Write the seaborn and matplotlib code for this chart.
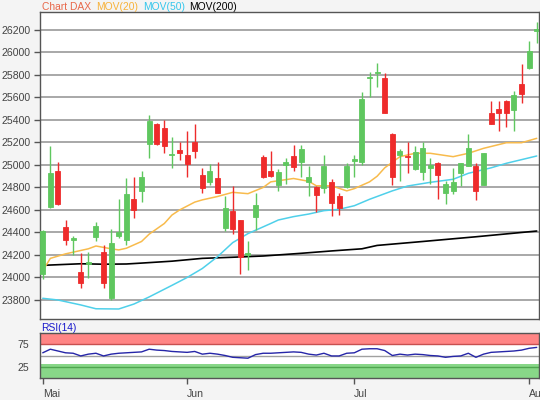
import numpy as np
import pandas as pd
import matplotlib
matplotlib.use("Agg")
import matplotlib.pyplot as plt
import seaborn as sns

# ---------------- data ----------------
month_labels = ["Mai", "Jun", "Jul", "Aug"]
month_start_day = [0, 19, 41, 64]

opens = [24030, 24630, 24950, 24450, 24335, 24045, 24120, 24360, 24225, 23815,
         24365, 24335, 24700, 24765, 25185, 25365, 25325, 25085, 25135, 25090,
         25200, 24910, 24845, 24885, 24440, 24595, 24510, 24200, 24540, 25075,
         24945, 24825, 25000, 25080, 25030, 24845, 24800, 24795, 24845, 24725,
         24800, 25035, 25030, 25770, 25815, 25770, 25275, 25090, 25080, 24965,
         24935, 24970, 25020, 24755, 24765, 24925, 24995, 24995, 24825, 25460,
         25495, 25565, 25485, 25720, 25860, 26195]
highs = [24420, 25165, 25030, 24510, 24365, 24215, 24225, 24490, 24290, 24435,
         24695, 24880, 24890, 24945, 25445, 25370, 25400, 25245, 25200, 25300,
         25365, 24970, 25010, 25030, 24725, 24815, 24515, 24320, 24750, 25090,
         25120, 24965, 25060, 25180, 25180, 24990, 24810, 25090, 24875, 24755,
         25020, 25090, 25650, 25830, 25910, 25815, 25280, 25140, 25200, 25165,
         25200, 25060, 25030, 24860, 24970, 25020, 25275, 25015, 25110, 25570,
         25565, 25580, 25660, 25900, 26105, 26275]
lows = [23985, 24620, 24640, 24285, 24200, 23910, 23995, 24325, 23910, 23800,
        24355, 24290, 24530, 24675, 25060, 25180, 25110, 24970, 25040, 24895,
        25060, 24755, 24820, 24750, 24415, 24390, 24035, 24065, 24420, 24880,
        24895, 24765, 24835, 24945, 24895, 24725, 24585, 24755, 24545, 24555,
        24795, 24890, 25000, 25605, 25695, 25460, 24820, 24860, 24930, 24955,
        24865, 24835, 24695, 24650, 24745, 24815, 24990, 24690, 24820, 25360,
        25305, 25335, 25305, 25550, 25855, 26085]
closes = [24410, 24925, 24655, 24335, 24355, 23950, 24140, 24460, 23950, 24305,
          24400, 24740, 24600, 24895, 25390, 25185, 25170, 25100, 25105, 25005,
          25120, 24795, 24945, 24755, 24620, 24430, 24185, 24215, 24640, 24890,
          24905, 24940, 25030, 24985, 25140, 24890, 24735, 24995, 24665, 24620,
          24990, 25050, 25585, 25785, 25830, 25465, 24895, 25125, 25070, 25115,
          25150, 25000, 24915, 24830, 24845, 25015, 25155, 24765, 25105, 25365,
          25465, 25460, 25620, 25630, 26015, 26205]

mov20_day = [0, 1, 3, 6, 7, 9, 10, 11, 13, 14, 16, 17, 18, 20, 21, 23, 25, 27, 29,
             30, 33, 35, 36, 38, 40, 41, 43, 44, 45, 47, 49, 51, 54, 56, 58, 61, 63, 65]
mov20_val = [24060, 24170, 24210, 24255, 24280, 24255, 24245, 24260, 24320, 24385,
             24480, 24555, 24600, 24670, 24690, 24720, 24757, 24745, 24800, 24850,
             24880, 24855, 24815, 24815, 24770, 24790, 24850, 24900, 24975, 25074,
             25104, 25104, 25074, 25104, 25148, 25198, 25198, 25237]

mov50_day = [0, 2, 5, 7, 10, 12, 14, 17, 19, 21, 23, 25, 27, 30, 31, 33, 35, 37, 39,
             41, 43, 46, 48, 51, 54, 56, 59, 61, 65]
mov50_val = [23815, 23800, 23756, 23722, 23720, 23764, 23827, 23930, 24000, 24080,
             24185, 24310, 24390, 24480, 24511, 24541, 24564, 24594, 24606, 24638,
             24695, 24770, 24813, 24846, 24873, 24926, 24975, 25015, 25080]

mov200_day = [0, 5, 8, 11, 13, 17, 21, 25, 29, 34, 38, 42, 44, 50, 57, 65]
mov200_val = [24108, 24122, 24118, 24120, 24128, 24145, 24170, 24180, 24191, 24215,
              24236, 24255, 24285, 24320, 24362, 24413]

rsi_val = [56, 64, 60, 56, 55, 49, 53, 55, 49, 53, 55, 56, 57, 58, 64, 62, 61, 59,
           58, 57, 59, 53, 55, 53, 50, 46, 45, 44, 52, 55, 55, 56, 57, 58, 57, 53,
           51, 55, 49, 49, 55, 56, 64, 65, 65, 61, 50, 53, 51, 53, 52, 50, 49, 46,
           48, 49, 55, 46, 53, 57, 58, 59, 60, 62, 66, 68]

price_ticks = [23800, 24000, 24200, 24400, 24600, 24800, 25000, 25200, 25400,
               25600, 25800, 26000, 26200]

# ---------------- style ----------------
sns.set_theme(style="white")
plt.rcParams["font.family"] = ["Liberation Sans", "DejaVu Sans"]

BG = "#f4f4f4"
GREEN = "#5fc75f"
RED = "#ee2b2b"
ORANGE = "#f8bb4c"
CYAN = "#4fd0ea"
GRID = "#9a9a9a"
SPINE = "#555555"
TXT = "#444444"
FS = 7.6

days = np.arange(len(opens))
df = pd.DataFrame({"day": days, "open": opens, "high": highs,
                   "low": lows, "close": closes, "rsi": rsi_val})
df["up"] = df["close"] >= df["open"]
df["color"] = np.where(df["up"], GREEN, RED)
df["body_lo"] = df[["open", "close"]].min(axis=1)
df["body_h"] = (df["close"] - df["open"]).abs()

fig = plt.figure(figsize=(5.4, 4.0), dpi=100, facecolor=BG)
ax = fig.add_axes([40 / 540, 81 / 400, 499 / 540, 307 / 400])
axr = fig.add_axes([40 / 540, 22 / 400, 499 / 540, 45 / 400])

# ---------------- main price panel ----------------
ax.set_facecolor("white")
for t in price_ticks:
    ax.axhline(t, color=GRID, lw=1.2, zorder=0)

sns.lineplot(x=mov200_day, y=mov200_val, ax=ax, color="black", lw=1.2, zorder=2)
sns.lineplot(x=mov50_day, y=mov50_val, ax=ax, color=CYAN, lw=1.1, zorder=2)
sns.lineplot(x=mov20_day, y=mov20_val, ax=ax, color=ORANGE, lw=1.1, zorder=2)

ax.vlines(df["day"], df["low"], df["high"], colors=df["color"], lw=1.0, zorder=3)
ax.bar(df["day"], df["body_h"], bottom=df["body_lo"], width=0.66,
       color=df["color"], edgecolor=df["color"], linewidth=0.6, zorder=4)

ax.set_xlim(-0.36, 65.3)
ax.set_ylim(23631, 26360)
ax.set_yticks(price_ticks)
ax.set_yticklabels([str(t) for t in price_ticks])
ax.set_xticks([])
ax.set_xlabel("")
ax.set_ylabel("")
ax.tick_params(axis="y", length=4, width=1, color=SPINE, pad=3,
               labelsize=FS, labelcolor=TXT, left=True)
for s in ax.spines.values():
    s.set_color(SPINE)
    s.set_linewidth(1.0)

# ---------------- RSI panel ----------------
axr.set_facecolor("white")
axr.axhspan(75, 100, color="#ff8585", lw=0, zorder=0)
axr.axhspan(0, 32, color="#88d788", lw=0, zorder=0)
axr.axhline(75, color="#c85050", lw=1.0, zorder=1)
axr.axhline(50, color="#a0a0a0", lw=1.0, zorder=1)
axr.axhline(25, color="#4fa54f", lw=1.0, zorder=1)
sns.lineplot(data=df, x="day", y="rsi", ax=axr, color="#2626a8", lw=1.0, zorder=3)
axr.set_xlim(-0.36, 65.3)
axr.set_ylim(0, 100)
axr.set_yticks([25, 75])
axr.set_yticklabels(["25", "75"])
axr.set_xticks(month_start_day)
axr.set_xticklabels(month_labels, ha="left")
axr.set_xlabel("")
axr.set_ylabel("")
axr.tick_params(axis="y", length=0, pad=8, labelsize=FS, labelcolor=TXT)
axr.tick_params(axis="x", length=4, width=1, color=SPINE, pad=4,
                labelsize=FS, labelcolor=TXT, bottom=True)
for s in axr.spines.values():
    s.set_color(SPINE)
    s.set_linewidth(1.0)

# ---------------- headings ----------------
fig.text(41.5 / 540, 1 - 10.5 / 400, "Chart DAX", color="#e8684a", fontsize=7.4, va="baseline")
fig.text(96 / 540, 1 - 10.5 / 400, "MOV(20)", color="#f7b23a", fontsize=7.4, va="baseline")
fig.text(142.7 / 540, 1 - 10.5 / 400, "MOV(50)", color="#34c6ec", fontsize=7.4, va="baseline")
fig.text(189.3 / 540, 1 - 10.5 / 400, "MOV(200)", color="black", fontsize=7.4, va="baseline")
fig.text(41 / 540, 1 - 331 / 400, "RSI(14)", color="#1a1acc", fontsize=7.4, va="baseline")

fig.savefig("out.png", dpi=100, facecolor=BG)
